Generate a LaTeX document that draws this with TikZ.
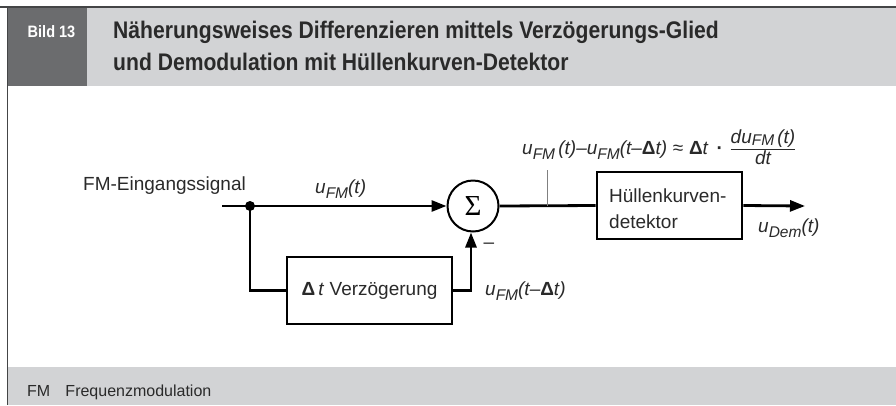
\documentclass[tikz,border=0pt]{standalone}
\usepackage{fontspec}
\setmainfont{Liberation Sans}
\newfontfamily\titlefont[FakeStretch=0.88]{Liberation Sans}
\newfontfamily\serifg{Liberation Serif}
\usetikzlibrary{arrows.meta}
\definecolor{bandgray}{HTML}{D2D3D5}
\definecolor{boxgray}{HTML}{6B6C6E}
\definecolor{framegray}{HTML}{444546}
\definecolor{txt}{HTML}{2A2A2A}
\newcommand{\sbs}[1]{\raisebox{-0.3em}{\fontsize{15.5}{15.5}\selectfont\itshape #1}}
\newcommand{\sbsn}[1]{\raisebox{-0.12em}{\fontsize{15.5}{15.5}\selectfont\itshape #1}}
\begin{document}
\begin{tikzpicture}[x=1pt,y=-1pt,
  sig/.style={line width=2.8pt,draw=black},
  blk/.style={draw=black,line width=2.8pt,fill=white,inner sep=0pt},
  lbl/.style={text=txt,font=\fontsize{19}{22}\selectfont,inner sep=0pt},
  tip/.style={-{Triangle[length=15pt,width=11pt]}}]
\useasboundingbox (0,0) rectangle (896,405);
% frame
\fill[white] (0,0) rectangle (896,405);
\fill[bandgray] (8,8) rectangle (896,86);
\fill[boxgray] (8,8) rectangle (87,86);
\fill[bandgray] (8,367) rectangle (896,405);
\draw[framegray,line width=1.6pt] (0,7.2) -- (896,7.2);
\draw[framegray,line width=1.8pt] (7.5,7) -- (7.5,405);
% title
\node[anchor=base west,inner sep=0pt,text=white,font=\titlefont\bfseries\fontsize{16.5}{18}\selectfont] (bild) at (27.5,37) {Bild 13};
\node[anchor=base west,inner sep=0pt,text=txt,font=\titlefont\bfseries\fontsize{24}{28}\selectfont] (t1) at (113,38) {Näherungsweises Differenzieren mittels Verzögerungs-Glied};
\node[anchor=base west,inner sep=0pt,text=txt,font=\titlefont\bfseries\fontsize{24}{28}\selectfont] (t2) at (113,70) {und Demodulation mit Hüllenkurven-Detektor};
% footer
\node[anchor=base west,inner sep=0pt,text=txt,font=\fontsize{16}{18}\selectfont] (ft) at (27,396) {FM\hspace{0.95em}Frequenzmodulation};
% blocks
\node[circle,draw=black,line width=2pt,minimum size=51pt,inner sep=0pt] (sum) at (473,206) {\serifg\fontsize{29}{29}\selectfont Σ};
\node[blk,minimum width=165pt,minimum height=67pt] (delay) at (369.5,290.5) {};
\node[lbl,anchor=center] (delaytxt) at (delay) {\textbf{Δ}\,\textit{t} Verzögerung};
\node[blk,minimum width=145pt,minimum height=67pt] (env) at (669.5,205.5) {};
\node[lbl,anchor=west,align=left,font=\fontsize{19}{26}\selectfont] (envtxt) at (609,208.5) {Hüllenkurven-\\detektor};
% connectors
\coordinate (in) at (222,206);
\coordinate (j) at (250,206);
\coordinate (out) at (805,206);
\coordinate (tk) at (547,206);
\coordinate (tktop) at (547,170);
\draw[sig,tip] (in) -- (sum.west);
\fill (j) circle (5pt);
\draw[sig] (j) |- (delay.west);
\draw[sig,tip] (delay.east) -| ([xshift=-2pt]sum.south);
\draw[sig] (sum.east) -- (env.west);
\draw[sig,tip] (env.east) -- (out);
\draw[line width=0.7pt,draw=gray] (tk) -- (tktop);
% labels
\node[lbl,anchor=base west] (lin) at (83,190) {FM-Eingangssignal};
\node[lbl,anchor=base west] (lu) at (315,193) {\itshape u\sbs{FM}(t)};
\node[lbl,anchor=base west] (ld) at (485,295) {\itshape u\sbs{FM}(t–\textbf{\upshape Δ}t)};
\node[lbl,anchor=center] (lm) at (489,246) {–};
\node[lbl,anchor=base west] (lo) at (758,232) {\itshape u\sbs{Dem}(t)};
\node[lbl,anchor=base west] (lf) at (522,154) {\itshape u\sbs{FM}\,(t)–u\sbs{FM}(t–\textbf{\upshape Δ}t)\hspace{0.3em}\upshape≈\hspace{0.3em}\textbf{Δ}\itshape t\hspace{0.45em}\textbf{\upshape·}\hspace{0.35em}$\frac{\mbox{\itshape du\sbsn{FM}\,(t)\rule[-0.3em]{0pt}{0pt}}}{\mbox{\itshape dt}}$};
\end{tikzpicture}
\end{document}
